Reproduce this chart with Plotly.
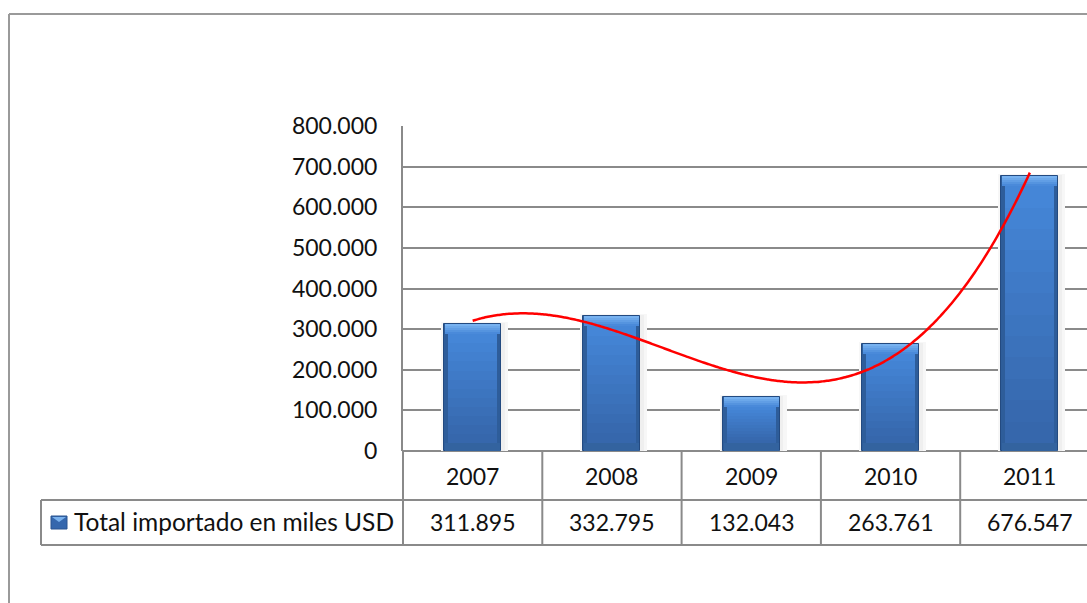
import numpy as np
import plotly.graph_objects as go

# Imports per year, thousands of USD
years = ["2007", "2008", "2009", "2010", "2011"]
values = [311895, 332795, 132043, 263761, 676547]
series_name = "Total importado en miles USD"
y_ticks = [0, 100000, 200000, 300000, 400000, 500000, 600000, 700000, 800000]

W, H = 1087, 603
L, T = 403, 126            # plot area left / top in px
ZERO_PX = 451              # y pixel of the zero line
PLOT_W = W - L
PLOT_H = ZERO_PX - T
CAT_PX = 139.3             # width of one category slot
Y_MAX = 800000
X0 = -0.5
X1 = X0 + PLOT_W / CAT_PX

FONT = "Lato"
TXT = "#111111"
GRID = "#8a8a8a"

def px_x(px):
    return (px - L) / PLOT_W

def px_y(py):
    return (ZERO_PX - py) / PLOT_H

def cat_paper(c):
    return (c - X0) / (X1 - X0)

def rgb(c):
    return "rgb(%d,%d,%d)" % tuple(np.clip(c, 0, 255).astype(int))

u = Y_MAX / PLOT_H         # data units per pixel (vertical)
cu = 1 / CAT_PX            # category units per pixel (horizontal)
bar_w = 57 * cu
side = 4 * cu
top_b = 10 * u
bot_b = 8 * u

x_idx = list(range(len(years)))
fig = go.Figure()

def bar(y, base, width, color, offset=None, line=None):
    fig.add_trace(go.Bar(x=x_idx, y=y, base=base, width=width, offset=offset,
                         marker=dict(color=color, line=line or dict(width=0)),
                         hoverinfo="skip", showlegend=False))

# faint glow around the bars, shifted slightly to the right
bar([v + 2 * u for v in values], [0] * 5, bar_w + 10 * cu, "#f7f7f7", offset=-bar_w / 2 - 3 * cu)
bar([v + 1 * u for v in values], [0] * 5, bar_w + 5 * cu, "#efefef", offset=-bar_w / 2 - 1.5 * cu)

# dark outer body (side bevels)
bar(values, [0] * 5, bar_w, "#2e5d9a", line=dict(color="#234a80", width=1))

# bottom bevel
bar([bot_b] * 5, [0] * 5, bar_w - 2 * cu, "#33639f")

# top bevel with a light-to-mid gradient
n_top = 5
t_hi = np.array([0x78, 0xb2, 0xf0])
t_lo = np.array([0x4a, 0x8a, 0xda])
for k in range(n_top):
    f = k / (n_top - 1)
    bar([top_b / n_top + 0.3 * u] * 5, [v - top_b * (k + 1) / n_top for v in values],
        bar_w - 2 * cu, rgb(t_hi + (t_lo - t_hi) * f))

# face with a vertical gradient built from stacked slices
n_sl = 12
c_top = np.array([0x45, 0x86, 0xd7])
c_bot = np.array([0x36, 0x67, 0xac])
for k in range(n_sl):
    f = k / (n_sl - 1)
    bases = [bot_b + (v - top_b - bot_b) * k / n_sl for v in values]
    hts = [(v - top_b - bot_b) / n_sl + 0.3 * u for v in values]
    bar(hts, bases, bar_w - 2 * side, rgb(c_bot + (c_top - c_bot) * f))

# cubic polynomial trend line through the yearly totals
coef = np.polyfit(np.arange(1, 6), values, 3)
xs = np.linspace(1, 5, 200)
fig.add_trace(go.Scatter(x=xs - 1, y=np.polyval(coef, xs), mode="lines",
                         line=dict(color="#ff0000", width=2.5, shape="spline"),
                         hoverinfo="skip", showlegend=False))

shapes = []
def line(x0, y0, x1, y1, color=GRID, width=2):
    shapes.append(dict(type="line", xref="paper", yref="paper", x0=x0, y0=y0, x1=x1, y1=y1,
                       line=dict(color=color, width=width), layer="above"))

# outer chart border
line(px_x(9), px_y(14), px_x(1200), px_y(14), "#9a9a9a", 2)
line(px_x(9), px_y(14), px_x(9), px_y(700), "#9a9a9a", 2)

# data table grid
row1, row2 = 500, 545
line(px_x(41), px_y(row1), 1.05, px_y(row1))
line(px_x(41), px_y(row2), 1.05, px_y(row2))
line(px_x(41), px_y(row1), px_x(41), px_y(row2))
line(0, 0, 0, px_y(row2))
for c in range(len(years)):
    xb = cat_paper(c + 0.5)
    if xb <= 1:
        line(xb, 0, xb, px_y(row2))

# legend key inside the table
shapes.append(dict(type="rect", xref="paper", yref="paper", x0=px_x(51), x1=px_x(67),
                   y0=px_y(529), y1=px_y(516), fillcolor="#3567ad",
                   line=dict(color="#2a5590", width=1), layer="above"))
shapes.append(dict(type="path", xref="paper", yref="paper",
                   path="M %f,%f L %f,%f L %f,%f Z" % (px_x(52), px_y(517), px_x(66), px_y(517),
                                                      px_x(59), px_y(522)),
                   fillcolor="#7ab2ee", line=dict(width=0), layer="above"))

annotations = []
fnt = dict(family=FONT, size=23, color=TXT)
for i, (yr, v) in enumerate(zip(years, values)):
    annotations.append(dict(x=i, xref="x", y=px_y(476), yref="paper", text=yr,
                            showarrow=False, font=fnt, xanchor="center", yanchor="middle"))
    annotations.append(dict(x=i, xref="x", y=px_y(522), yref="paper",
                            text=f"{v:,}".replace(",", "."),
                            showarrow=False, font=fnt, xanchor="center", yanchor="middle"))
annotations.append(dict(x=px_x(72), xref="paper", y=px_y(521), yref="paper", text=series_name,
                        showarrow=False, font=dict(family=FONT, size=24.5, color=TXT),
                        xanchor="left", yanchor="middle"))

fig.update_layout(
    width=W, height=H,
    margin=dict(l=L, r=0, t=T, b=H - ZERO_PX, pad=0),
    paper_bgcolor="white", plot_bgcolor="white",
    barmode="overlay", bargap=0,
    separators=",.",
    showlegend=False,
    shapes=shapes, annotations=annotations,
    xaxis=dict(range=[X0, X1], showticklabels=False, showgrid=False, zeroline=False,
               showline=False, ticks="", fixedrange=True),
    yaxis=dict(range=[0, Y_MAX], tickvals=y_ticks, tickformat=",d",
               showgrid=True, gridcolor=GRID, gridwidth=2,
               showline=True, linecolor=GRID, linewidth=2,
               zeroline=True, zerolinecolor=GRID, zerolinewidth=2,
               ticks="", ticklabelstandoff=19,
               tickfont=fnt, fixedrange=True),
)

fig.write_html("out.html")
